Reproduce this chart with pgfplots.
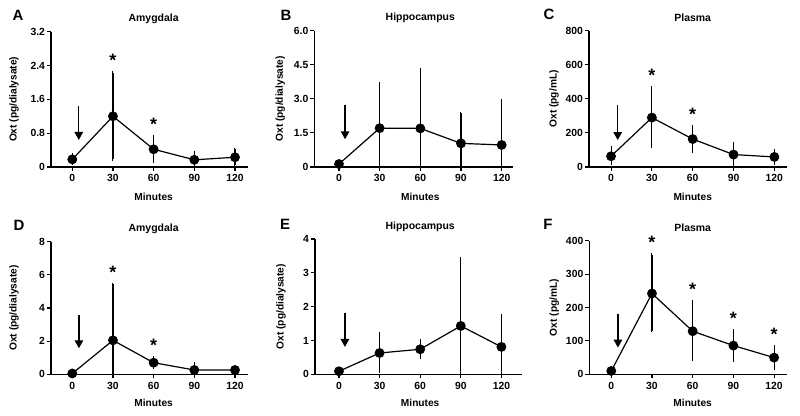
\documentclass[border=0pt]{standalone}
\usepackage{fontspec}
\setmainfont{Liberation Sans}
\usepackage{pgfplots}
\usepackage{pgfplotstable}
\pgfplotsset{compat=1.18}
\usetikzlibrary{arrows.meta}

\pgfplotstableread{
x y ep em
0 0.18 0.12 0.10
30 1.20 1.03 1.01
60 0.42 0.29 0.29
90 0.17 0.18 0.15
120 0.23 0.19 0.18
}\dataA
\pgfplotstableread{
x y ep em
0 0.13 0.04 0.04
30 1.71 1.94 1.71
60 1.70 2.58 1.70
90 1.04 1.33 1.04
120 0.97 1.95 0.97
}\dataB
\pgfplotstableread{
x y ep em
0 63 48 43
30 290 174 171
60 164 73 71
90 73 66 61
120 59 40 35
}\dataC
\pgfplotstableread{
x y ep em
0 0.05 0.04 0.04
30 2.05 3.37 2.05
60 0.70 0.30 0.30
90 0.26 0.40 0.26
120 0.26 0.05 0.05
}\dataD
\pgfplotstableread{
x y ep em
0 0.09 0.03 0.03
30 0.63 0.57 0.54
60 0.74 0.26 0.25
90 1.43 1.99 1.43
120 0.81 0.93 0.81
}\dataE
\pgfplotstableread{
x y ep em
0 10 5 5
30 242 115 112
60 129 88 84
90 86 44 43
120 50 32 31
}\dataF

\newcommand{\tickfont}{\fontsize{10.4}{12}\selectfont\bfseries}
\newcommand{\labfont}{\fontsize{10.2}{12}\selectfont\bfseries}
\newcommand{\ttlfont}{\fontsize{10.5}{12}\selectfont\bfseries}
\newcommand{\starfont}{\fontsize{18}{20}\selectfont\bfseries}

\tikzset{
  star/.style={font=\starfont, anchor=base, yshift=-10bp},
  arr/.style={line width=1.4bp, -{Triangle[width=8.5bp,length=8bp]}},
  ylab/.style={font=\labfont, rotate=90, anchor=center},
}
\pgfplotsset{
  panel/.style={
    scale only axis, clip=false,
    axis lines*=left,
    axis line style={line width=1.1bp},
    every tick/.style={black, line width=1.1bp},
    major tick length=4bp,
    tick align=outside,
    xtick={0,30,60,90,120},
    ymin=0,
    /pgf/number format/assume math mode=true,
    tick label style={font=\tickfont},
    yticklabel style={xshift=1.5bp},
  },
  series/.style={black, line width=1.2bp, mark=*, mark size=4.3bp,
    mark options={solid, fill=black},
    error bars/.cd, y dir=both, y explicit,
    error bar style={line width=1.1bp},
    error mark options={line width=1bp, mark size=1.6bp, black}},
}

\begin{document}
\begin{tikzpicture}
\path[use as bounding box] (0,0) rectangle (800bp,416bp);

% A
\begin{axis}[panel, at={(51bp,249bp)}, width=197bp, height=135.3bp,
  xmin=-15.7, xmax=129.6, ymax=3.2, ytick={0,0.8,1.6,2.4,3.2},
  yticklabels={0,0.8,1.6,2.4,3.2}]
\addplot[series] table[x=x, y=y, y error plus=ep, y error minus=em] {\dataA};
\draw[arr] (axis cs:4.8,1.45) -- (axis cs:4.8,0.64);
\node[star] at (axis cs:30,2.61) {*};
\node[star] at (axis cs:60,1.10) {*};
\node[font=\ttlfont, yshift=12.5bp] at (axis cs:60,3.2) {Amygdala};
\node[font=\labfont, yshift=-30bp] at (axis cs:60,0) {Minutes};
\node[ylab] at ([xshift=-37bp]rel axis cs:0,0.5) {Oxt (pg/dialysate)};
\end{axis}

% B
\begin{axis}[panel, at={(314.3bp,249bp)}, width=199bp, height=136.3bp,
  xmin=-18.2, xmax=128.6, ymax=6, ytick={0,1.5,3,4.5,6},
  yticklabels={0,1.5,3.0,4.5,6.0}]
\addplot[series] table[x=x, y=y, y error plus=ep, y error minus=em] {\dataB};
\draw[arr] (axis cs:4.5,2.73) -- (axis cs:4.5,1.22);
\node[font=\ttlfont, yshift=12.5bp] at (axis cs:60,6) {Hippocampus};
\node[font=\labfont, yshift=-30bp] at (axis cs:60,0) {Minutes};
\node[ylab] at ([xshift=-34bp]rel axis cs:0,0.5) {Oxt (pg/dialysate)};
\end{axis}

% C
\begin{axis}[panel, at={(589bp,249bp)}, width=198bp, height=136.3bp,
  xmin=-16.2, xmax=129.3, ymax=800, ytick={0,200,400,600,800}]
\addplot[series] table[x=x, y=y, y error plus=ep, y error minus=em] {\dataC};
\draw[arr] (axis cs:4.9,366) -- (axis cs:4.9,158);
\node[star] at (axis cs:30,559) {*};
\node[star] at (axis cs:60,332) {*};
\node[font=\ttlfont, yshift=12.5bp] at (axis cs:60,800) {Plasma};
\node[font=\labfont, yshift=-30bp] at (axis cs:60,0) {Minutes};
\node[ylab] at ([xshift=-35bp]rel axis cs:0,0.5) {Oxt (pg/mL)};
\end{axis}

% D
\begin{axis}[panel, at={(51bp,41.7bp)}, width=197bp, height=132.6bp,
  xmin=-15.7, xmax=129.6, ymax=8, ytick={0,2,4,6,8}]
\addplot[series] table[x=x, y=y, y error plus=ep, y error minus=em] {\dataD};
\draw[arr] (axis cs:4.9,3.6) -- (axis cs:4.9,1.57);
\node[star] at (axis cs:30,6.4) {*};
\node[star] at (axis cs:60,1.96) {*};
\node[font=\ttlfont, yshift=12.5bp] at (axis cs:60,8) {Amygdala};
\node[font=\labfont, yshift=-29bp] at (axis cs:60,0) {Minutes};
\node[ylab] at ([xshift=-37bp]rel axis cs:0,0.5) {Oxt (pg/dialysate)};
\end{axis}

% E
\begin{axis}[panel, at={(315bp,41.7bp)}, width=206.7bp, height=135.3bp,
  xmin=-17.7, xmax=135, ymax=4, ytick={0,1,2,3,4}]
\addplot[series] table[x=x, y=y, y error plus=ep, y error minus=em] {\dataE};
\draw[arr] (axis cs:4.4,1.82) -- (axis cs:4.4,0.81);
\node[font=\ttlfont, yshift=12.5bp] at (axis cs:60,4) {Hippocampus};
\node[font=\labfont, yshift=-29bp] at (axis cs:60,0) {Minutes};
\node[ylab] at ([xshift=-34bp]rel axis cs:0,0.5) {Oxt (pg/dialysate)};
\end{axis}

% F
\begin{axis}[panel, at={(589.3bp,41.7bp)}, width=197.4bp, height=133.6bp,
  xmin=-16.2, xmax=129.3, ymax=400, ytick={0,100,200,300,400}]
\addplot[series] table[x=x, y=y, y error plus=ep, y error minus=em] {\dataF};
\draw[arr] (axis cs:4.9,182) -- (axis cs:4.9,80);
\node[star] at (axis cs:30,407) {*};
\node[star] at (axis cs:60,265) {*};
\node[star] at (axis cs:90,180) {*};
\node[star] at (axis cs:120,132) {*};
\node[font=\ttlfont, yshift=12.5bp] at (axis cs:60,400) {Plasma};
\node[font=\labfont, yshift=-29bp] at (axis cs:60,0) {Minutes};
\node[ylab] at ([xshift=-35bp]rel axis cs:0,0.5) {Oxt (pg/mL)};
\end{axis}

\node[font=\fontsize{15}{18}\selectfont\bfseries] at (18bp,401bp) {A};
\node[font=\fontsize{15}{18}\selectfont\bfseries] at (286bp,401bp) {B};
\node[font=\fontsize{15}{18}\selectfont\bfseries] at (549bp,402bp) {C};
\node[font=\fontsize{15}{18}\selectfont\bfseries] at (19bp,191bp) {D};
\node[font=\fontsize{15}{18}\selectfont\bfseries] at (285bp,192bp) {E};
\node[font=\fontsize{15}{18}\selectfont\bfseries] at (548bp,192bp) {F};
\end{tikzpicture}
\end{document}
